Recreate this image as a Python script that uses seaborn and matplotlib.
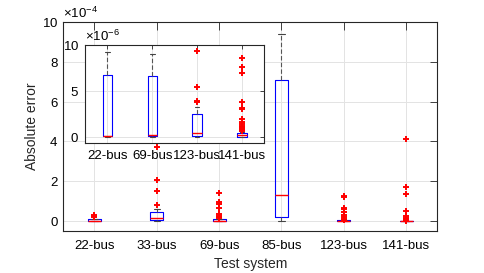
import numpy as np
import pandas as pd
import matplotlib
matplotlib.use("Agg")
import matplotlib.pyplot as plt
import seaborn as sns
from matplotlib.ticker import ScalarFormatter, FixedLocator

# ---- data (absolute error, in units of 1e-6) ----
systems = ["22-bus", "33-bus", "69-bus", "85-bus", "123-bus", "141-bus"]
inset_systems = ["22-bus", "69-bus", "123-bus", "141-bus"]

err_22 = [0.0, 0.02, 0.05, 0.07, 0.09, 0.1, 0.1, 0.1, 0.1, 0.1, 0.1,
          0.5, 1.5, 3.0, 5.0, 6.7, 9.2, 18, 22, 25, 30]
err_33 = [0.0, 0.5, 1.0, 1.5, 2.5, 3.0, 5, 7, 9, 11, 12,
          16, 22, 30, 38, 44, 57, 79, 148, 204, 372]
err_69 = [0.0, 0.01, 0.02, 0.03, 0.04, 0.05, 0.06, 0.08, 0.09, 0.1,
          0.11, 0.12, 0.13, 0.14, 0.15, 0.16, 0.17, 0.18, 0.2,
          0.3, 0.5, 0.8, 1.2, 1.8, 2.6, 3.6, 5.0, 6.6, 9.0,
          12, 17, 24, 32, 62, 84, 93, 141]
err_85 = [0.0, 18.5, 128, 709, 941]
err_123 = [0.0, 0.01, 0.02, 0.03, 0.04, 0.05, 0.06, 0.08, 0.1, 0.11, 0.12, 0.14,
           0.15,
           0.17, 0.19, 0.21, 0.23, 0.26, 0.29, 0.32, 0.35, 0.39, 0.43, 0.47,
           0.5,
           0.6, 0.7, 0.8, 0.9, 1.0, 1.15, 1.3, 1.5, 1.7, 2.0, 2.3,
           2.55, 3.3,
           3.8, 3.9, 5.5, 9.4, 17, 29, 42, 57, 62, 119, 126]
err_141 = [0.0, 0.0, 0.0, 0.01, 0.01, 0.01, 0.02, 0.02, 0.02, 0.02, 0.03,
           0.03, 0.03, 0.03, 0.04, 0.04, 0.04, 0.04, 0.04, 0.05, 0.05, 0.05,
           0.05,
           0.06, 0.07, 0.08, 0.09, 0.1, 0.11, 0.12, 0.13, 0.14, 0.15, 0.16,
           0.17, 0.18, 0.19, 0.2, 0.21, 0.22, 0.22, 0.23, 0.24, 0.24,
           0.25,
           0.26, 0.27, 0.28, 0.29, 0.3, 0.31, 0.32, 0.33, 0.34, 0.35, 0.36,
           0.37, 0.38, 0.39, 0.4, 0.41, 0.42, 0.43, 0.44, 0.44, 0.45,
           0.45, 0.6,
           0.7, 0.8, 0.9, 1.0, 1.1, 1.25, 1.45, 1.7, 1.95, 3.1, 3.2, 3.85,
           6.95, 7.65, 8.6, 12, 24, 47, 133, 172, 410]

errors = {"22-bus": err_22, "33-bus": err_33, "69-bus": err_69,
          "85-bus": err_85, "123-bus": err_123, "141-bus": err_141}
rows = [(s, v * 1e-6) for s in systems for v in errors[s]]
df = pd.DataFrame(rows, columns=["system", "error"])
df_in = df[df["system"].isin(inset_systems)]

# ---- style ----
sns.set_style("white")
plt.rcParams["font.family"] = ["Liberation Sans", "DejaVu Sans"]
plt.rcParams["mathtext.fontset"] = "custom"
plt.rcParams["mathtext.rm"] = "Liberation Sans"
DARK = "#262626"
GRID = "#e3e3e3"
TICKFS = 9.5

box_kws = dict(whis=0.5, width=0.21, fill=False, color="blue", linewidth=0.8,
               flierprops=dict(marker="+", markeredgecolor="red", markerfacecolor="red",
                               markersize=4.2, markeredgewidth=1.4),
               medianprops=dict(color="red", linewidth=1.0),
               whiskerprops=dict(color="#555555", linestyle=(0, (4, 2)), linewidth=0.8),
               capprops=dict(color="#444444", linewidth=0.8),
               boxprops=dict(color="blue", linewidth=0.8))

fig = plt.figure(figsize=(4.84, 2.73), dpi=100)

def style_axes(ax, ticklen, powr):
    ax.set_facecolor("white")
    ax.grid(True, color=GRID, linewidth=0.7)
    ax.set_axisbelow(True)
    for sp in ax.spines.values():
        sp.set_color(DARK)
        sp.set_linewidth(0.8)
        sp.set_visible(True)
    ax.tick_params(direction="in", length=ticklen, width=0.6, colors=DARK,
                   top=True, right=True, labelsize=TICKFS, labelcolor="black")
    fmt = ScalarFormatter(useMathText=True)
    fmt.set_powerlimits((powr, powr))
    ax.yaxis.set_major_formatter(fmt)
    ax.yaxis.get_offset_text().set_fontsize(TICKFS)

def raise_medians(ax):
    for c in ax.containers:
        for m in getattr(c, "medians", []):
            m.set_color("red")
            m.set_zorder(m.get_zorder() + 0.5)

# main axes
ax = fig.add_axes([0.1308, 0.155, 0.7727, 0.7626])
sns.boxplot(data=df, x="system", y="error", order=systems, ax=ax, **box_kws)
raise_medians(ax)
ax.set_xlim(-0.5, 5.5)
ax.set_ylim(-0.5e-4, 10e-4)
ax.yaxis.set_major_locator(FixedLocator([0, 2e-4, 4e-4, 6e-4, 8e-4, 10e-4]))
style_axes(ax, 5.4, -4)
ax.tick_params(axis="x", pad=6.5)
ax.tick_params(axis="y", pad=3.5)
ax.set_xlabel("Test system", fontsize=10, labelpad=4)
ax.set_ylabel("Absolute error", fontsize=10, labelpad=2)

# inset axes
axi = fig.add_axes([0.1756, 0.477, 0.3705, 0.3579])
sns.boxplot(data=df_in, x="system", y="error", order=inset_systems, ax=axi, **box_kws)
raise_medians(axi)
axi.set_xlim(-0.5, 3.5)
axi.set_ylim(-0.6e-6, 10e-6)
axi.yaxis.set_major_locator(FixedLocator([0, 5e-6, 10e-6]))
style_axes(axi, 3.2, -6)
axi.tick_params(axis="x", pad=5)
axi.tick_params(axis="y", pad=4.5)
axi.set_xlabel("")
axi.set_ylabel("")

fig.savefig("out.png", dpi=100)
